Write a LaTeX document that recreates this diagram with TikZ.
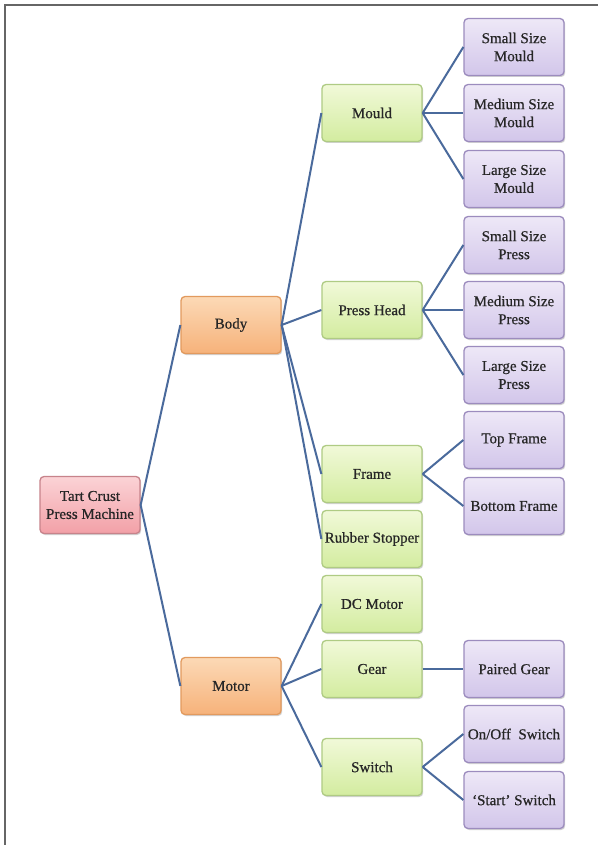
\documentclass[tikz,border=0pt]{standalone}
\usepackage{fontspec}
\setmainfont{Liberation Serif}[FakeBold=0.6]
\usetikzlibrary{shadows}
\definecolor{lnk}{HTML}{4A6A9C}
\definecolor{gtop}{HTML}{F1F9D8}
\definecolor{gbot}{HTML}{D3ECA0}
\definecolor{gbrd}{HTML}{AFCB84}
\definecolor{ptop}{HTML}{EEE8F7}
\definecolor{pbot}{HTML}{D2C6EA}
\definecolor{pbrd}{HTML}{9C8CBE}
\definecolor{otop}{HTML}{FCD9B6}
\definecolor{obot}{HTML}{F6B27A}
\definecolor{obrd}{HTML}{E29A5E}
\definecolor{rtop}{HTML}{FBD3D6}
\definecolor{rbot}{HTML}{F2A0A7}
\definecolor{rbrd}{HTML}{C7838B}
\tikzset{
  box/.style={rounded corners=4pt, minimum width=100pt, minimum height=57pt,
    inner sep=0.5pt, align=center, line width=1.3pt,
    font=\fontsize{15}{18}\selectfont, text=black!85,
    drop shadow={shadow xshift=1.2pt, shadow yshift=-1.5pt, opacity=0.35}},
  gbox/.style={box, draw=gbrd, top color=gtop, bottom color=gbot},
  pbox/.style={box, draw=pbrd, top color=ptop, bottom color=pbot},
  obox/.style={box, draw=obrd, top color=otop, bottom color=obot},
  rbox/.style={box, draw=rbrd, top color=rtop, bottom color=rbot},
  lnk/.style={draw=lnk, line width=2pt}
}
\begin{document}
\begin{tikzpicture}[x=1pt,y=-1pt]
\useasboundingbox (0,0) rectangle (598,845);
\fill[white] (0,0) rectangle (598,845);
\draw[gray!80!black, line width=2pt] (5,845) -- (5,5) -- (598,5);
% root and level 1
\node[rbox] (root) at (90,505) {Tart Crust\\Press Machine};
\node[obox] (body) at (231,325) {Body};
\node[obox] (motor) at (231,686) {Motor};
% level 2
\node[gbox] (mould) at (372,113) {Mould};
\node[gbox] (press) at (372,310) {Press Head};
\node[gbox] (frame) at (372,474) {Frame};
\node[gbox] (rubber) at (372,539) {Rubber Stopper};
\node[gbox] (dc) at (372,604) {DC Motor};
\node[gbox] (gear) at (372,669) {Gear};
\node[gbox] (switch) at (372,767) {Switch};
% level 3
\node[pbox] (sm) at (514,47) {Small Size\\Mould};
\node[pbox] (mm) at (514,113) {Medium Size\\Mould};
\node[pbox] (lm) at (514,179) {Large Size\\Mould};
\node[pbox] (sp) at (514,245) {Small Size\\Press};
\node[pbox] (mp) at (514,310) {Medium Size\\Press};
\node[pbox] (lp) at (514,375) {Large Size\\Press};
\node[pbox] (tf) at (514,440) {Top Frame};
\node[pbox] (bf) at (514,506) {Bottom Frame};
\node[pbox] (pg) at (514,669) {Paired Gear};
\node[pbox] (oo) at (514,734) {On/Off\ \ Switch};
\node[pbox] (ss) at (514,800) {`Start' Switch};
% connectors
\foreach \a/\b in {root/body, root/motor,
  body/mould, body/press, body/frame, body/rubber,
  motor/dc, motor/gear, motor/switch,
  mould/sm, mould/mm, mould/lm,
  press/sp, press/mp, press/lp,
  frame/tf, frame/bf, gear/pg, switch/oo, switch/ss}
  \draw[lnk] (\a.east) -- (\b.west);
\end{tikzpicture}
\end{document}
